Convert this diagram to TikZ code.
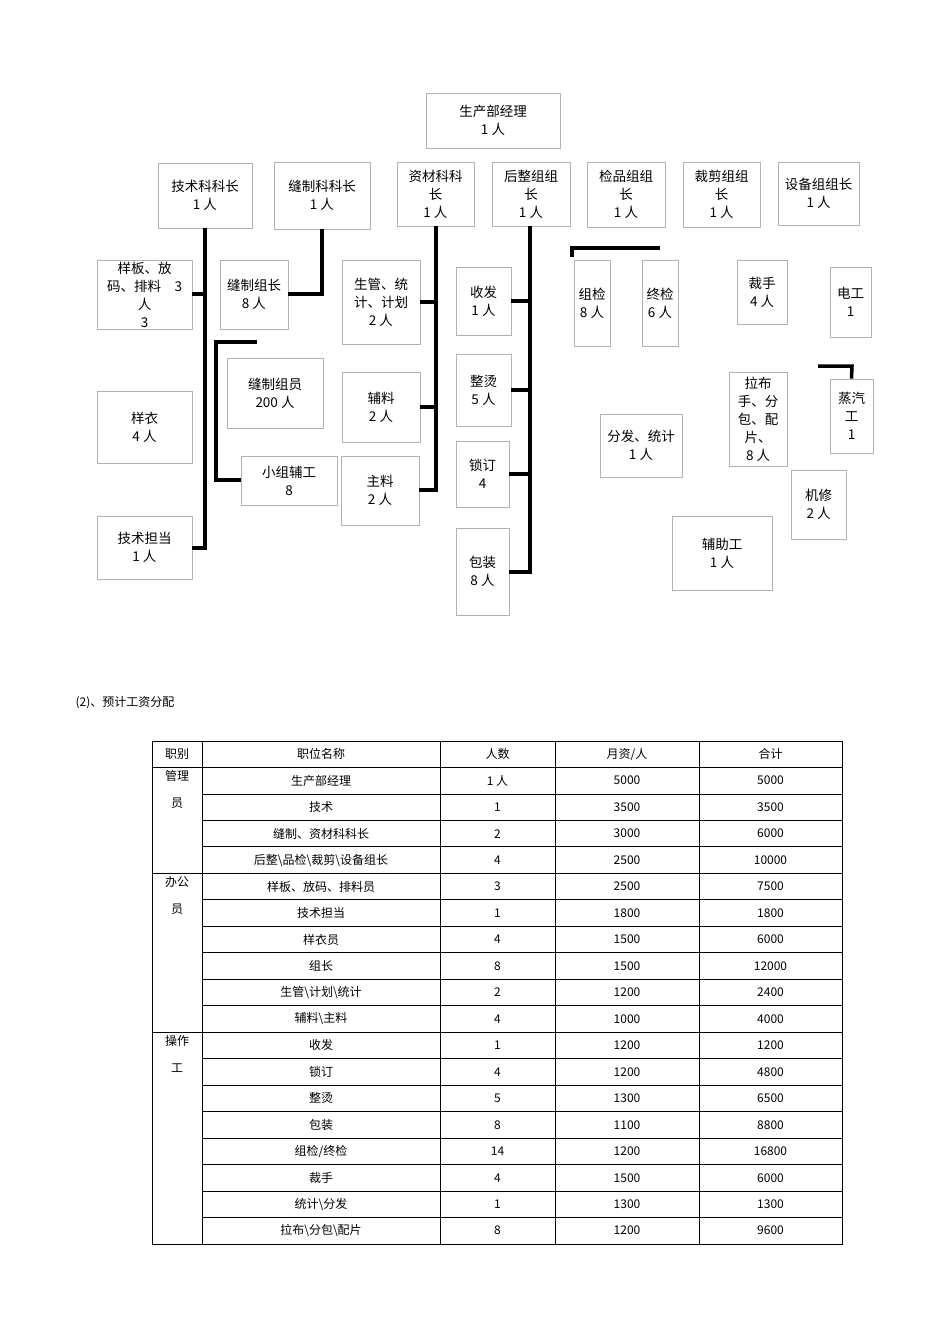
\documentclass[tikz,border=0pt]{standalone}
\usepackage{fontspec}
\setmainfont{Noto Sans CJK SC}
\begin{document}
\begin{tikzpicture}[x=1pt,y=-1pt,
 bx/.style={draw=black!30,line width=0.8pt,align=center,inner sep=0pt,font=\fontsize{13.5}{18}\selectfont},
 ln/.style={line width=3.5pt},
 tc/.style={font=\fontsize{12}{14}\selectfont,anchor=center}]
\useasboundingbox (0,0) rectangle (950,1344);
\newcommand\B[6]{\node[bx,minimum width=#4-#2,minimum height=#5-#3] (#1) at ({(#2+#4)/2},{(#3+#5)/2}) {#6};}
\B{jl}{426}{93}{560}{148}{生产部经理\\1 人}
\B{js}{158}{163}{252}{228}{技术科科长\\1 人}
\B{fz}{274}{162}{370}{229}{缝制科科长\\1 人}
\B{zc}{397}{162}{474}{226}{资材科科\\长\\1 人}
\B{hz}{492}{162}{570}{226}{后整组组\\长\\1 人}
\B{jp}{587}{162}{665}{227}{检品组组\\长\\1 人}
\B{cj}{683}{162}{760}{227}{裁剪组组\\长\\1 人}
\B{sb}{778}{162}{859}{225}{设备组组长\\1 人}
\B{yb}{97}{260}{192}{329}{样板、放\\码、排料\quad 3\\人\\3}
\B{fzz}{220}{260}{288}{329}{缝制组长\\8 人}
\B{sg}{342}{260}{420}{344}{生管、统\\计、计划\\2 人}
\B{sf}{456}{267}{511}{335}{收发\\1 人}
\B{yy}{97}{391}{192}{463}{样衣\\4 人}
\B{zy}{227}{358}{323}{428}{缝制组员\\200 人}
\B{fl}{342}{372}{420}{442}{辅料\\2 人}
\B{zt}{456}{354}{511}{426}{整烫\\5 人}
\B{xz}{241}{456}{337}{505}{小组辅工\\8}
\B{zl}{341}{456}{419}{525}{主料\\2 人}
\B{sd}{456}{441}{509}{507}{锁订\\4}
\B{jd}{97}{516}{192}{579}{技术担当\\1 人}
\B{bz}{456}{528}{509}{615}{包装\\8 人}
\B{zj}{574}{260}{610}{346}{组检\\8 人}
\B{zhj}{642}{260}{678}{346}{终检\\6 人}
\B{cs}{737}{260}{787}{324}{裁手\\4 人}
\B{dg}{830}{267}{871}{337}{电工\\1}
\B{lb}{729}{372}{787}{466}{拉布\\手、分\\包、配\\片、\\8 人}
\B{zq}{830}{379}{873}{453}{蒸汽\\工\\1}
\B{ff}{600}{414}{682}{477}{分发、统计\\1 人}
\B{jx}{791}{470}{846}{539}{机修\\2 人}
\B{fg}{672}{516}{772}{590}{辅助工\\1 人}
% connectors
\draw[ln] (205,228) -- (205,548) -- (jd.east|-0,548);
\draw[ln] (yb.east|-0,294) -- (205,294);
\draw[ln] (322,229) -- (322,294) -- (fzz.east|-0,294);
\draw[ln] (257,342) -- (216,342) -- (216,480) -- (xz.west|-0,480);
\draw[ln] (436,226) -- (436,490) -- (zl.east|-0,490);
\draw[ln] (sg.east|-0,302) -- (436,302);
\draw[ln] (fl.east|-0,407) -- (436,407);
\draw[ln] (530,226) -- (530,572) -- (bz.east|-0,572);
\draw[ln] (sf.east|-0,301) -- (530,301);
\draw[ln] (zt.east|-0,390) -- (530,390);
\draw[ln] (sd.east|-0,474) -- (530,474);
\draw[ln] (572,257) -- (572,248) -- (660,248);
\draw[ln] (818,366) -- (852,366) -- (zq.north);
\node[anchor=west,font=\fontsize{12}{14}\selectfont] (t2) at (72,703) {(2)、预计工资分配};
% table
\def\rh{26.47}
\draw[line width=1pt] (152,741) rectangle (842,1244);
\foreach \x in {202,440,555,699} \draw[line width=0.8pt] (\x,741) -- (\x,1244);
\foreach \i in {1,...,18} {\pgfmathsetmacro\yy{741+\i*\rh}\draw[line width=0.8pt] (202,\yy) -- (842,\yy);}
\foreach \i in {1,5,11} {\pgfmathsetmacro\yy{741+\i*\rh}\draw[line width=0.8pt] (152,\yy) -- (202,\yy);}
\foreach \b/\c/\d/\e [count=\i from 0] in {职位名称/人数/{月资/人}/合计,生产部经理/1 人/5000/5000,技术/1/3500/3500,{缝制、资材科科长}/2/3000/6000,后整\textbackslash 品检\textbackslash 裁剪\textbackslash 设备组长/4/2500/10000,{样板、放码、排料员}/3/2500/7500,技术担当/1/1800/1800,样衣员/4/1500/6000,组长/8/1500/12000,生管\textbackslash 计划\textbackslash 统计/2/1200/2400,辅料\textbackslash 主料/4/1000/4000,收发/1/1200/1200,锁订/4/1200/4800,整烫/5/1300/6500,包装/8/1100/8800,{组检/终检}/14/1200/16800,裁手/4/1500/6000,统计\textbackslash 分发/1/1300/1300,拉布\textbackslash 分包\textbackslash 配片/8/1200/9600}{
 \pgfmathsetmacro\yy{741+(\i+0.5)*\rh}
 \node[tc] at (321,\yy) {\b};
 \node[tc] at (497.5,\yy) {\c};
 \node[tc] at (627,\yy) {\d};
 \node[tc] at (770.5,\yy) {\e};
}
\node[tc] at (177,754) {职别};
\node[tc,align=center,anchor=north,font=\fontsize{12}{26.47}\selectfont] at (177,767) {管理\\员};
\node[tc,align=center,anchor=north,font=\fontsize{12}{26.47}\selectfont] at (177,873) {办公\\员};
\node[tc,align=center,anchor=north,font=\fontsize{12}{26.47}\selectfont] at (177,1032) {操作\\工};
\end{tikzpicture}
\end{document}
